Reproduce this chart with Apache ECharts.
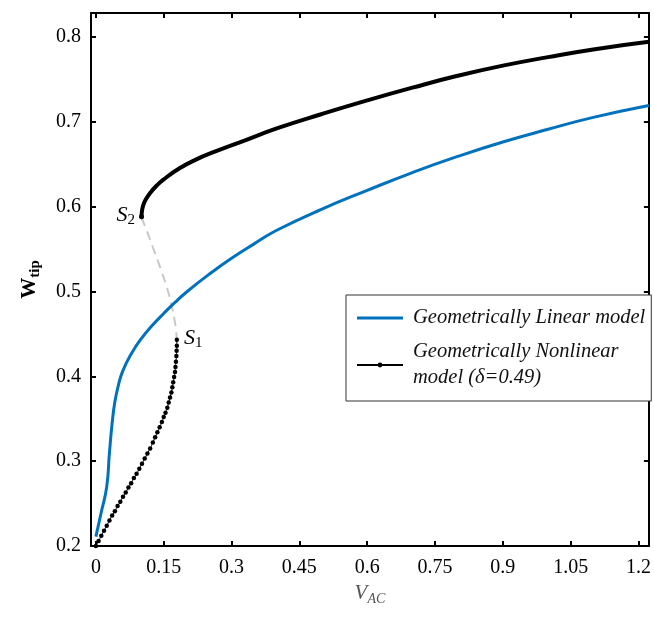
<!DOCTYPE html>
<html>
<head>
<meta charset="utf-8">
<script src="https://cdn.jsdelivr.net/npm/echarts@6/dist/echarts.min.js"></script>
<style>
html,body{margin:0;padding:0;background:#fff;}
#main{width:654px;height:621px;}
</style>
</head>
<body>
<div id="main"></div>
<script>
var chart = echarts.init(document.getElementById('main'));

// tick values
var xTicks = [0, 0.15, 0.3, 0.45, 0.6, 0.75, 0.9, 1.05, 1.2];
var yTicks = [0.2, 0.3, 0.4, 0.5, 0.6, 0.7, 0.8];

// geometrically linear model (blue)
var linearModel = [
  [0, 0.211], [0.012, 0.24], [0.024, 0.27], [0.03, 0.31], [0.036, 0.345],
  [0.042, 0.37], [0.05, 0.39], [0.06, 0.407], [0.08, 0.428], [0.1, 0.444],
  [0.125, 0.46], [0.15, 0.474], [0.175, 0.487], [0.2, 0.499], [0.25, 0.52],
  [0.3, 0.539], [0.35, 0.556], [0.4, 0.572], [0.5, 0.597], [0.6, 0.619],
  [0.7, 0.64], [0.8, 0.659], [0.9, 0.676], [1.0, 0.691], [1.1, 0.705],
  [1.223, 0.719]
];

// nonlinear model, lower stable branch (dotted, up to S1)
var nonlinLower = [
  [0, 0.2], [0.006, 0.206], [0.012, 0.212], [0.018, 0.218], [0.024, 0.224],
  [0.03, 0.23], [0.036, 0.236], [0.042, 0.241], [0.048, 0.247], [0.054, 0.252],
  [0.06, 0.258], [0.066, 0.263], [0.072, 0.269], [0.078, 0.274], [0.084, 0.28],
  [0.09, 0.285], [0.096, 0.291], [0.102, 0.297], [0.108, 0.303], [0.114, 0.309],
  [0.12, 0.315], [0.126, 0.322], [0.131, 0.328], [0.136, 0.334], [0.141, 0.34],
  [0.146, 0.346], [0.15, 0.352], [0.154, 0.357], [0.158, 0.363], [0.161, 0.369],
  [0.164, 0.375], [0.167, 0.381], [0.169, 0.387], [0.171, 0.393], [0.173, 0.399],
  [0.175, 0.405], [0.176, 0.411], [0.177, 0.417], [0.178, 0.424], [0.1785, 0.43],
  [0.179, 0.436], [0.179, 0.443]
];

// nonlinear model, unstable branch (S2 -> S1)
var nonlinUnstable = [
  [0.101, 0.587], [0.115, 0.568], [0.126, 0.552], [0.143, 0.527], [0.159, 0.501],
  [0.168, 0.482], [0.174, 0.466], [0.177, 0.455], [0.179, 0.443]
];

// nonlinear model, upper stable branch (from S2)
var nonlinUpper = [
  [0.101, 0.588], [0.102, 0.595], [0.105, 0.602], [0.11, 0.608], [0.12, 0.616],
  [0.135, 0.625], [0.15, 0.632], [0.185, 0.645], [0.22, 0.655], [0.26, 0.664],
  [0.33, 0.678], [0.4, 0.692], [0.5, 0.709], [0.6, 0.725], [0.7, 0.74],
  [0.8, 0.754], [0.9, 0.766], [1.0, 0.776], [1.1, 0.785], [1.223, 0.794]
];

var serif = 'Liberation Serif';
var subRich = {
  s: {fontFamily: serif, fontStyle: 'italic', fontSize: 22, color: '#000', lineHeight: 22, padding: [0, 0, 3, 0]},
  n: {fontFamily: serif, fontSize: 15, color: '#000', lineHeight: 14, verticalAlign: 'bottom'}
};

var upperData = nonlinUpper.map(function (p, i) {
  if (i === 0) {
    return {value: p, symbolSize: 5, label: {show: true, position: 'left', distance: 4,
      formatter: '{s|S}{n|2}', rich: subRich}};
  }
  return p;
});
var lowerData = nonlinLower.map(function (p, i) {
  if (i === nonlinLower.length - 1) {
    return {value: p, label: {show: true, position: 'right', distance: 5,
      formatter: '{s|S}{n|1}', rich: subRich}};
  }
  return p;
});

var axisCommon = {
  axisLine: {show: true, onZero: false, lineStyle: {color: '#000', width: 2}},
  splitLine: {show: false}
};

option = {
  animation: false,
  grid: {left: 91, right: 3, top: 13, bottom: 75},
  legend: {
    data: [
      {name: 'Geometrically Linear model', icon: 'path://M0,0 L46,0 L46,3 L0,3 Z'},
      {name: 'Geometrically Nonlinear\nmodel (\u03b4=0.49)'}
    ],
    orient: 'vertical',
    left: 346, top: 295,
    padding: [10, 6, 10, 10],
    itemGap: 8,
    itemWidth: 46, itemHeight: 6,
    symbolKeepAspect: true,
    borderColor: '#333', borderWidth: 1,
    backgroundColor: '#fff',
    textStyle: {fontFamily: serif, fontStyle: 'italic', fontSize: 20.5, color: '#111', lineHeight: 26, padding: [0, 0, 0, 5]}
  },
  xAxis: [
    Object.assign({
      type: 'value', position: 'bottom', min: -0.0108, max: 1.223,
      name: '{v|V}{s|AC}', nameLocation: 'middle', nameGap: 20,
      nameTextStyle: {rich: {
        v: {fontFamily: serif, fontStyle: 'italic', fontSize: 21, color: '#555', lineHeight: 22, padding: [0, 0, 3, 0]},
        s: {fontFamily: serif, fontStyle: 'italic', fontSize: 14, color: '#555', lineHeight: 14, verticalAlign: 'bottom'}
      }},
      axisTick: {show: true, inside: true, length: 5, customValues: xTicks, lineStyle: {color: '#000', width: 2}},
      axisLabel: {show: true, customValues: xTicks, margin: 12, fontFamily: serif, fontSize: 20, color: '#000'}
    }, axisCommon),
    Object.assign({
      type: 'value', position: 'top', min: -0.0108, max: 1.223,
      axisTick: {show: true, inside: true, length: 5, customValues: xTicks, lineStyle: {color: '#000', width: 2}},
      axisLabel: {show: false}
    }, axisCommon)
  ],
  yAxis: [
    Object.assign({
      type: 'value', position: 'left', min: 0.2, max: 0.828,
      name: '{w|W}{t|tip}', nameLocation: 'middle', nameGap: 48, nameRotate: 90,
      nameTextStyle: {rich: {
        w: {fontFamily: serif, fontWeight: 'bold', fontSize: 21, color: '#000', lineHeight: 22, padding: [0, 0, 4, 0]},
        t: {fontFamily: serif, fontWeight: 'bold', fontSize: 15, color: '#000', lineHeight: 15, verticalAlign: 'bottom'}
      }},
      axisTick: {show: true, inside: true, length: 5, customValues: yTicks, lineStyle: {color: '#000', width: 2}},
      axisLabel: {show: true, customValues: yTicks, margin: 10, fontFamily: serif, fontSize: 20, color: '#000'}
    }, axisCommon),
    Object.assign({
      type: 'value', position: 'right', min: 0.2, max: 0.828,
      axisTick: {show: true, inside: true, length: 5, customValues: yTicks, lineStyle: {color: '#000', width: 2}},
      axisLabel: {show: false}
    }, axisCommon)
  ],
  series: [
    {
      name: 'unstable', type: 'line', data: nonlinUnstable, smooth: true,
      symbol: 'none', z: 1,
      lineStyle: {color: '#c8c8c8', width: 2, type: [9, 6]}
    },
    {
      name: 'Geometrically Linear model', type: 'line', data: linearModel, smooth: true,
      symbol: 'none', z: 2,
      color: '#0072BD',
      itemStyle: {color: '#0072BD'},
      lineStyle: {color: '#0072BD', width: 3}
    },
    {
      name: 'Geometrically Nonlinear\nmodel (\u03b4=0.49)', type: 'line', data: lowerData, smooth: true,
      symbol: 'circle', symbolSize: 4.5, showAllSymbol: true, z: 3,
      color: '#000',
      itemStyle: {color: '#000'},
      lineStyle: {color: '#000', width: 1}
    },
    {
      name: 'upper', type: 'line', data: upperData, smooth: true,
      symbol: 'circle', symbolSize: 0, showAllSymbol: true, z: 3,
      itemStyle: {color: '#000'},
      lineStyle: {color: '#000', width: 4}
    }
  ]
};

chart.setOption(option);
window.onresize = chart.resize;
</script>
</body>
</html>
